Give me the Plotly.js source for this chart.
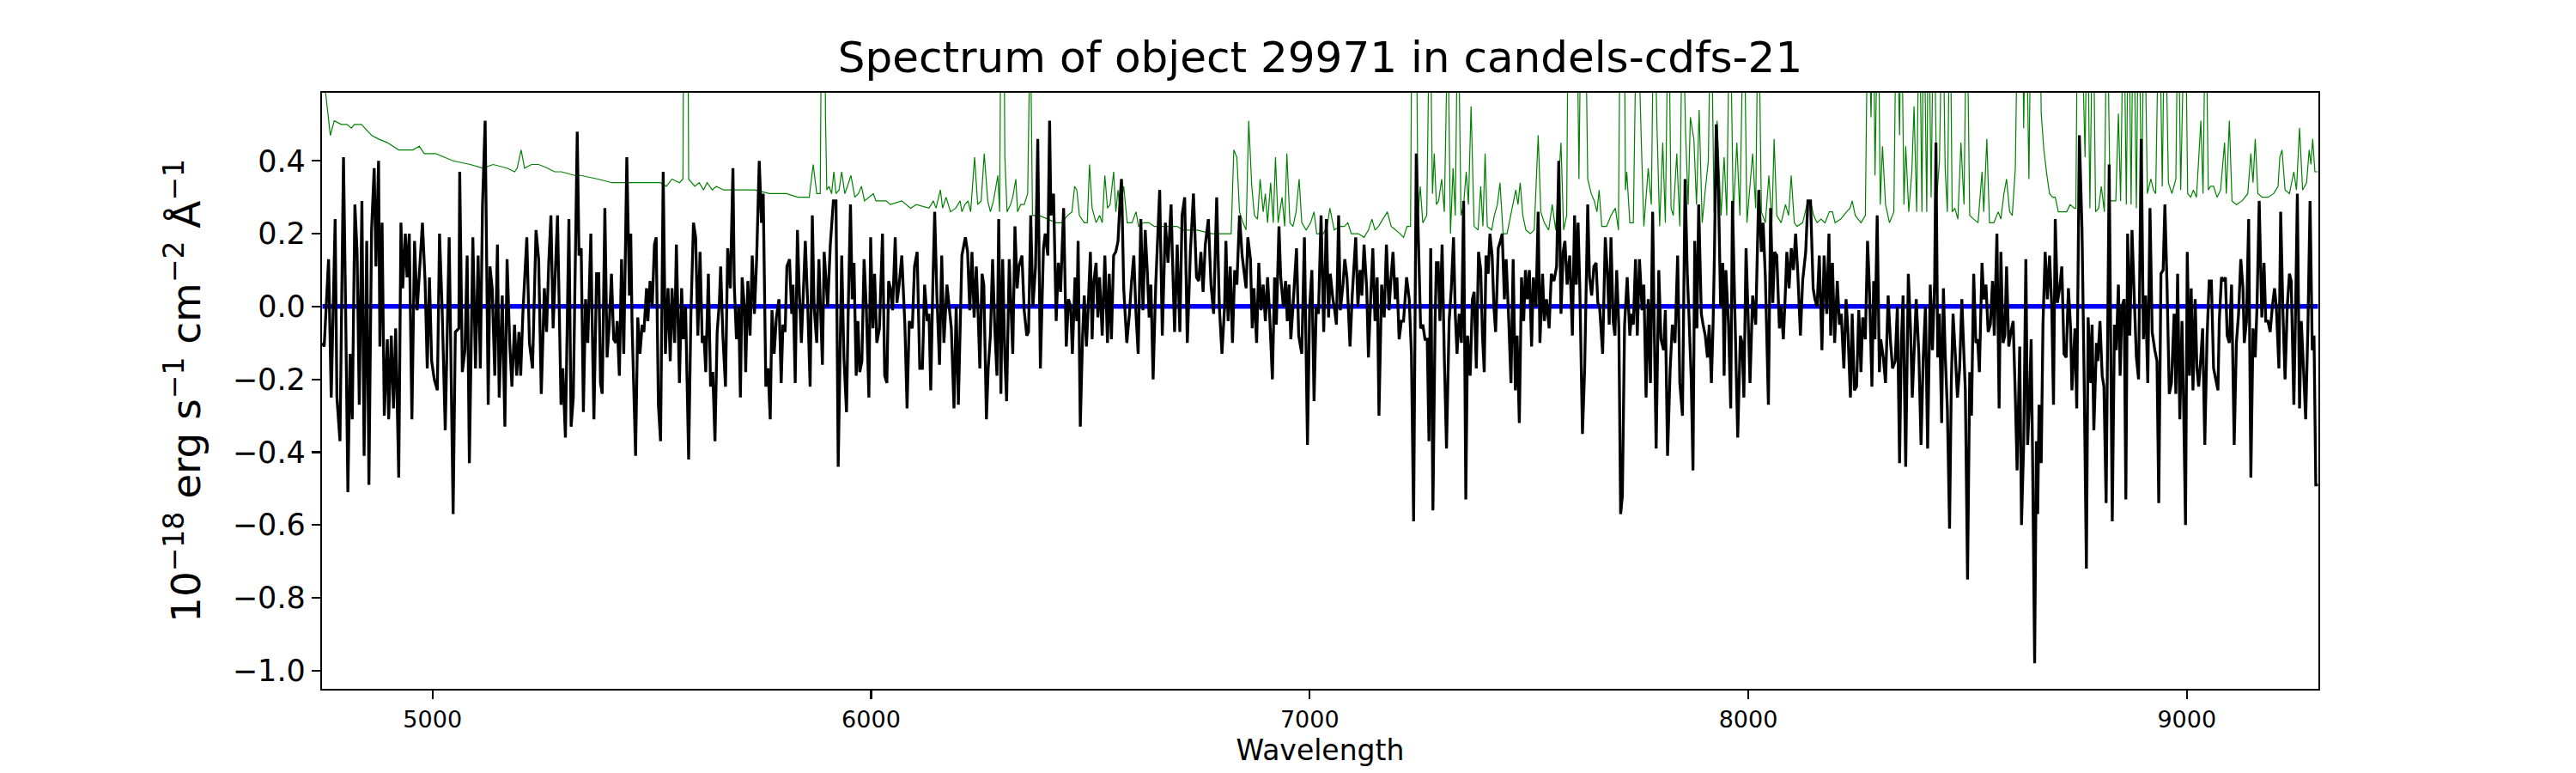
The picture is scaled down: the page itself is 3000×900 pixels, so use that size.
<!DOCTYPE html>
<html>
<head>
<meta charset="utf-8">
<script src="https://cdn.plot.ly/plotly-3.0.1.min.js"></script>
<style>
  html, body { margin: 0; padding: 0; background: #fff; }
  #spectrum { width: 3000px; height: 900px; }
</style>
</head>
<body>
<div id="spectrum"></div>
<script>
const fluxWave = [
  // 4750 - 5320
  4749,4753,4763,4769,4778,4782,4789,4797,4802,4807,
  4812,4817,4823,4828,4833,4839,4844,4850,4855,4861,
  4867,4871,4877,4880,4885,4890,4897,4900,4906,4911,
  4916,4923,4928,4932,4938,4942,4947,4953,4959,4965,
  4972,4977,4983,4988,4993,4998,5004,5011,5016,5022,
  5029,5038,5047,5052,5060,5062,5068,5074,5079,5084,
  5092,5098,5104,5109,5114,5120,5127,5131,5136,5142,
  5148,5152,5159,5165,5170,5176,5181,5187,5192,5197,
  5201,5206,5215,5221,5228,5236,5242,5248,5255,5260,
  5265,5270,5275,5285,5293,5297,5303,5311,5316,
  // 5320 - 5890
  5321,5330,5334,5339,5344,5349,5354,5361,5364,5368,
  5374,5379,5383,5387,5393,5398,5403,5408,5413,5418,
  5421,5426,5431,5436,5439,5443,5449,5452,5455,5463,
  5468,5473,5478,5482,5488,5491,5496,5501,5506,5510,
  5515,5520,5526,5531,5537,5542,5546,5552,5556,5563,
  5568,5572,5577,5584,5589,5595,5600,5605,5610,5615,
  5619,5623,5629,5634,5639,5644,5649,5654,5657,5662,
  5668,5673,5679,5685,5688,5693,5698,5702,5706,5711,
  5714,5719,5724,5729,5734,5739,5745,5750,5754,5760,
  5765,5770,5774,5779,5784,5790,5795,5799,5804,5808,
  5814,5819,5822,5827,5832,5836,5841,5845,5850,5855,
  5861,5866,5870,5876,5881,5889,
  // 5890 - 6465
  5893,5901,5907,5914,5920,5925,5933,5938,5944,5948,
  5953,5957,5961,5966,5970,5974,5979,5984,5989,5995,
  5999,6004,6008,6013,6019,6026,6031,6036,6040,6044,
  6049,6055,6059,6064,6070,6077,6082,6087,6094,6099,
  6105,6111,6117,6122,6128,6132,6136,6141,6145,6150,
  6156,6161,6166,6173,6178,6183,6189,6194,6199,6207,
  6215,6220,6225,6230,6235,6240,6244,6248,6253,6257,
  6263,6267,6272,6277,6282,6287,6291,6296,6300,6305,
  6309,6315,6319,6323,6328,6333,6337,6344,6349,6355,
  6359,6364,6369,6375,6380,6386,6393,6397,6403,6407,
  6410,6416,6422,6427,6432,6439,6445,6450,6455,6459,
  6465,
  // 6465 - 7035
  6469,6472,6477,6482,6486,6491,6495,6500,6504,6508,
  6513,6517,6521,6527,6533,6539,6543,6548,6553,6558,
  6563,6568,6571,6576,6583,6589,6594,6599,6604,6609,
  6615,6620,6625,6630,6634,6638,6643,6649,6658,6664,
  6671,6677,6684,6687,6692,6698,6704,6709,6715,6721,
  6728,6735,6742,6747,6752,6757,6762,6769,6775,6781,
  6788,6794,6800,6806,6809,6814,6819,6824,6829,6834,
  6840,6846,6850,6855,6859,6865,6869,6873,6879,6884,
  6889,6894,6899,6904,6909,6915,6920,6924,6930,6934,
  6940,6945,6949,6953,6957,6962,6970,6975,6982,6988,
  6995,7000,7005,7010,7015,7020,7026,7032,
  // 7035 - 7605
  7038,7043,7047,7053,7057,7061,7066,7070,7076,7080,
  7085,7092,7097,7105,7110,7115,7119,7124,7130,7134,
  7139,7144,7149,7154,7158,7164,7170,7175,7181,7185,
  7190,7195,7199,7204,7209,7214,7221,7227,7232,7237,
  7243,7248,7253,7258,7263,7268,7272,7276,7281,7286,
  7289,7293,7297,7302,7307,7312,7318,7323,7328,7332,
  7336,7341,7346,7351,7356,7360,7366,7371,7375,7380,
  7385,7390,7394,7398,7402,7407,7411,7416,7420,7424,
  7430,7435,7439,7444,7448,7454,7459,7464,7469,7473,
  7478,7483,7488,7492,7496,7501,7506,7510,7516,7521,
  7525,7531,7535,7540,7546,7551,7557,7563,7568,7573,
  7578,7582,7587,7593,7599,7604,
  // 7605 - 8175
  7608,7612,7616,7622,7627,7634,7638,7643,7648,7653,
  7657,7661,7668,7674,7679,7683,7687,7692,7696,7700,
  7705,7709,7713,7718,7724,7730,7734,7738,7743,7747,
  7752,7758,7762,7767,7772,7777,7782,7786,7790,7796,
  7801,7807,7811,7816,7822,7827,7833,7839,7844,7850,
  7856,7861,7865,7870,7874,7878,7883,7887,7893,7897,
  7902,7907,7911,7916,7920,7923,7927,7932,7937,7942,
  7945,7949,7955,7960,7964,7970,7976,7982,7986,7990,
  7995,8000,8004,8010,8017,8020,8024,8030,8034,8039,
  8046,8051,8056,8060,8065,8071,8075,8080,8084,8088,
  8093,8098,8103,8108,8113,8119,8124,8131,8136,8142,
  8148,8152,8157,8162,8168,8173,
  // 8175 - 8740
  8179,8184,8188,8192,8197,8203,8208,8212,8218,8223,
  8227,8233,8237,8242,8247,8252,8257,8261,8267,8272,
  8276,8282,8286,8289,8294,8299,8302,8308,8313,8319,
  8324,8329,8335,8340,8345,8349,8353,8359,8365,8370,
  8374,8379,8383,8389,8394,8399,8404,8409,8415,8420,
  8425,8428,8432,8436,8441,8445,8449,8454,8459,8463,
  8467,8472,8477,8482,8487,8492,8495,8500,8505,8509,
  8514,8519,8523,8527,8533,8537,8542,8547,8552,8557,
  8561,8567,8572,8576,8581,8585,8589,8594,8599,8604,
  8609,8613,8619,8623,8628,8633,8637,8641,8645,8648,
  8653,8657,8660,8663,8668,8672,8677,8682,8687,8692,
  8696,8700,8705,8710,8715,8720,8725,8730,8735,8738,
  // 8740 - 9300
  8745,8749,8755,8761,8766,8771,8775,8781,8784,8788,
  8794,8797,8802,8807,8811,8816,8823,8830,8835,8839,
  8844,8848,8852,8857,8861,8865,8870,8875,8880,8885,
  8890,8896,8901,8906,8911,8916,8921,8927,8932,8936,
  8941,8946,8950,8955,8960,8965,8971,8975,8979,8984,
  8989,8992,8997,9001,9006,9010,9014,9019,9023,9027,
  9032,9036,9041,9046,9051,9056,9061,9066,9071,9074,
  9079,9084,9088,9092,9097,9102,9108,9113,9118,9123,
  9128,9131,9136,9141,9146,9151,9156,9160,9165,9171,
  9176,9180,9185,9190,9195,9200,9204,9210,9214,9219,
  9224,9229,9234,9238,9244,9248,9252,9257,9261,9266,
  9271,9276,9281,9286,9290,9294,9299
];

const fluxValues = [
  // 4750 - 5320
  -0.10,-0.11,0.13,-0.25,0.24,-0.25,-0.37,0.41,-0.02,-0.51,
  -0.13,-0.31,0.28,0.15,-0.27,0.29,-0.41,0.18,-0.49,0.21,
  0.38,0.11,0.40,-0.11,0.23,-0.30,-0.09,-0.31,-0.08,-0.28,
  -0.06,-0.47,0.23,0.05,0.20,0.08,0.20,-0.31,0.18,-0.01,
  0.13,0.23,0.07,-0.17,0.08,-0.15,-0.20,-0.23,0.20,-0.01,
  -0.34,0.19,-0.57,-0.07,-0.06,0.37,-0.18,-0.12,0.14,-0.43,
  0.19,-0.17,0.14,-0.17,0.28,0.51,-0.27,0.11,0.05,-0.19,
  0.17,-0.25,0.03,-0.33,0.13,-0.10,-0.22,-0.05,-0.19,-0.07,
  -0.19,-0.02,0.19,-0.10,-0.17,0.21,0.13,-0.24,0.05,-0.07,
  0.12,0.25,-0.06,0.25,-0.27,-0.17,-0.36,0.24,-0.33,
  // 5320 - 5890
  -0.25,0.48,0.14,0.16,-0.29,0.02,-0.10,0.20,-0.04,-0.31,
  0.09,0.09,-0.21,-0.24,0.27,-0.14,-0.05,0.09,-0.09,-0.10,
  -0.04,-0.19,0.13,-0.13,0.09,0.41,0.03,0.20,-0.05,-0.41,
  -0.03,-0.13,-0.05,-0.07,0.05,-0.04,0.07,0.00,0.17,0.19,
  -0.27,-0.37,0.37,-0.13,0.05,-0.15,0.05,-0.10,0.17,-0.21,
  0.05,-0.09,0.00,-0.42,-0.03,0.23,0.19,-0.08,0.15,-0.10,
  -0.08,-0.18,0.09,-0.22,-0.18,-0.37,-0.07,0.01,0.11,-0.08,
  -0.22,0.16,0.05,0.38,0.06,-0.09,0.00,-0.25,0.08,0.00,
  -0.18,0.07,-0.08,0.14,-0.02,0.13,0.40,0.23,0.31,-0.22,
  -0.17,-0.31,-0.01,-0.13,-0.03,0.02,-0.21,-0.05,-0.07,0.11,
  0.13,-0.02,0.06,-0.21,0.21,0.05,-0.10,0.02,0.18,0.02,
  -0.22,0.25,0.00,-0.10,0.13,-0.16,
  // 5890 - 6465
  0.15,0.00,0.17,0.29,0.29,-0.44,0.14,-0.14,-0.29,0.00,
  0.28,0.02,0.12,-0.19,-0.04,-0.18,-0.15,0.13,0.00,-0.25,
  0.19,-0.06,0.09,-0.10,-0.06,0.20,-0.19,-0.21,0.07,0.05,
  -0.01,0.19,0.01,0.06,0.14,-0.05,-0.28,-0.04,-0.06,0.11,
  0.15,-0.17,-0.17,0.06,-0.04,-0.02,-0.23,0.07,0.26,0.03,
  -0.16,0.14,-0.10,0.06,0.00,-0.06,-0.28,0.00,-0.27,0.14,
  0.19,0.15,-0.01,0.15,-0.03,0.11,-0.02,-0.17,0.09,0.06,
  -0.31,-0.17,-0.08,0.13,-0.06,-0.19,0.24,-0.24,0.13,-0.14,
  -0.26,0.13,0.00,-0.13,0.22,0.05,0.11,0.14,-0.01,-0.08,
  -0.07,0.25,0.00,0.11,0.46,-0.17,0.16,0.20,0.14,0.51,
  0.25,0.31,-0.04,0.12,0.04,0.27,-0.11,0.02,0.00,-0.13,
  0.08,
  // 6465 - 7035
  -0.04,0.18,-0.33,-0.09,0.03,-0.11,0.00,0.15,-0.09,0.07,
  0.12,-0.03,0.08,-0.08,0.14,-0.10,0.09,-0.09,0.14,0.15,
  0.18,0.30,0.35,0.05,-0.10,-0.02,0.07,0.14,-0.02,-0.13,
  0.24,-0.01,0.21,0.09,-0.03,0.06,-0.20,0.06,0.32,-0.08,
  0.23,0.12,0.28,0.14,-0.07,0.17,-0.07,0.25,0.30,-0.10,
  0.15,0.31,0.08,0.07,0.15,0.04,0.17,0.24,0.06,-0.02,
  0.30,0.00,-0.13,0.00,0.18,-0.04,0.11,-0.10,0.10,0.06,
  0.25,0.14,0.10,0.05,0.19,0.13,-0.06,0.05,-0.10,0.12,
  -0.01,0.06,-0.04,0.08,-0.03,-0.20,0.08,-0.05,0.22,0.08,
  0.00,0.07,-0.04,0.06,-0.09,0.00,0.16,-0.08,-0.13,0.19,
  -0.38,0.00,0.10,-0.26,0.00,-0.02,0.25,-0.07,
  // 7035 - 7605
  0.24,-0.03,0.09,0.02,-0.01,-0.05,0.25,-0.01,0.06,0.13,
  0.08,-0.11,0.03,0.19,0.00,0.10,0.03,0.17,0.05,-0.14,
  0.02,0.16,-0.04,0.08,-0.30,0.06,-0.03,0.17,-0.01,0.07,
  0.15,0.02,0.08,-0.09,-0.04,-0.04,0.08,0.02,-0.13,-0.59,
  0.42,0.18,-0.06,-0.05,-0.09,-0.09,-0.37,0.16,-0.56,-0.04,
  0.12,0.12,-0.04,0.17,-0.14,-0.39,-0.04,0.05,0.19,-0.02,
  -0.13,-0.02,-0.10,0.29,-0.53,-0.08,-0.19,0.02,0.04,-0.17,
  0.15,0.10,-0.08,-0.18,0.14,0.09,0.20,0.14,0.00,-0.07,
  0.16,0.18,0.20,0.02,0.13,-0.04,-0.21,0.13,-0.23,-0.08,
  -0.32,0.08,-0.04,0.10,0.02,0.10,-0.11,0.08,0.00,0.26,
  -0.10,0.09,-0.04,0.02,-0.06,0.09,0.07,0.11,0.40,-0.02,
  0.15,0.18,0.06,0.14,-0.08,0.25,
  // 7605 - 8175
  0.06,0.23,0.05,-0.35,-0.17,0.28,0.08,0.03,0.11,0.12,
  0.01,0.00,-0.13,0.19,0.09,-0.05,0.19,-0.04,-0.08,0.10,
  -0.06,-0.57,-0.52,-0.05,0.08,-0.08,-0.02,-0.05,0.13,-0.08,
  0.13,-0.01,0.06,-0.25,0.02,-0.21,0.26,-0.08,-0.39,0.10,
  -0.09,-0.12,-0.01,-0.41,-0.17,-0.05,-0.10,0.14,-0.21,-0.30,
  0.35,0.09,-0.03,-0.20,-0.45,0.18,-0.06,0.28,-0.02,-0.05,
  -0.08,-0.14,-0.05,-0.21,-0.04,0.15,0.50,0.32,0.00,0.12,
  -0.19,0.10,-0.05,-0.28,0.29,-0.04,-0.36,-0.08,-0.10,-0.25,
  0.16,-0.04,-0.21,0.03,-0.05,0.11,0.32,0.15,0.23,0.08,
  -0.27,0.27,0.01,0.15,0.14,-0.06,0.00,-0.09,0.02,0.15,
  0.05,0.16,0.10,0.20,0.09,-0.08,0.07,0.15,0.29,0.29,
  0.05,0.02,0.00,0.14,-0.12,0.14,
  // 8175 - 8740
  -0.02,0.20,-0.08,0.12,-0.10,0.07,-0.05,-0.02,-0.17,0.02,
  -0.06,-0.25,-0.02,-0.23,-0.22,-0.01,-0.18,-0.03,-0.09,0.18,
  0.06,-0.22,0.07,-0.09,0.25,-0.18,-0.09,-0.14,-0.21,0.03,
  -0.09,-0.17,-0.15,0.00,-0.43,-0.10,0.03,-0.44,0.09,-0.06,
  -0.25,-0.10,0.02,-0.13,-0.38,-0.14,0.00,-0.39,0.06,-0.12,
  0.07,0.45,-0.14,-0.02,-0.32,0.05,-0.13,-0.28,-0.61,-0.21,
  -0.02,-0.13,-0.25,-0.17,0.02,-0.14,-0.23,-0.75,-0.18,-0.30,
  0.09,-0.10,-0.09,-0.18,0.12,0.02,0.06,-0.07,-0.05,0.07,
  -0.08,0.20,-0.28,0.15,-0.10,-0.08,0.11,-0.11,-0.07,-0.04,
  -0.25,-0.45,-0.11,-0.60,-0.38,0.13,-0.38,-0.27,-0.09,-0.38,
  -0.98,-0.37,-0.57,-0.27,-0.43,-0.05,0.15,0.02,0.14,0.00,
  -0.27,0.24,0.01,0.05,0.11,-0.13,-0.14,0.05,-0.06,-0.23,
  // 8740 - 9300
  -0.06,-0.28,0.47,0.21,-0.21,-0.72,-0.03,-0.21,-0.05,-0.34,
  -0.10,-0.15,-0.04,-0.19,-0.22,-0.54,0.39,-0.59,-0.05,-0.12,
  0.06,-0.19,0.00,0.02,-0.53,0.20,-0.08,0.21,0.03,-0.14,
  -0.20,0.46,-0.09,0.03,-0.21,0.27,-0.07,-0.12,-0.15,-0.54,
  0.09,0.10,0.28,0.05,-0.24,-0.21,-0.02,-0.24,0.09,-0.31,
  -0.04,-0.22,-0.60,0.15,-0.19,0.05,-0.23,0.02,-0.17,-0.22,
  -0.14,-0.06,-0.38,-0.09,0.07,0.07,-0.17,-0.20,-0.23,-0.04,
  0.08,0.07,0.08,-0.08,-0.10,0.06,-0.38,-0.10,-0.02,0.13,
  0.05,-0.10,-0.04,0.24,-0.47,-0.06,-0.14,0.00,0.29,-0.03,
  0.12,-0.04,-0.04,-0.07,0.00,0.05,0.00,-0.17,0.26,-0.01,
  -0.20,0.00,0.09,0.07,-0.27,-0.01,0.31,-0.28,-0.04,-0.17,
  -0.31,-0.06,0.29,-0.12,-0.08,-0.49,-0.49
];

// Noise spectrum (green); sky-line spikes run off the top of the axes
const noiseWave = [
  4749,4755,4767,4776,4792,4805,4815,4822,4838,4861,
  4877,4897,4923,4955,4970,4981,5007,5047,5086,5115,
  5138,5170,5187,5193,5202,5210,5226,5242,5262,5278,
  5294,5324,5338,5377,5409,5442,5462,5481,5520,5533,
  5546,5563,5571,5575,5580,5584,5598,5608,5618,5626,
  5638,5647,5664,5703,5735,5768,5807,5833,5859,5868,
  5876,5884,5889,5893,5896,5899,5904,5910,5915,5920,
  5927,5933,5940,5946,5954,5963,5971,5978,5985,6005,
  6011,6034,6044,6070,6090,6103,6132,6142,6148,6158,
  6163,6171,6181,6193,6203,6207,6214,6221,6227,6236,
  6243,6251,6258,6266,6272,6279,6289,6293,6298,6302,
  6305,6310,6318,6323,6330,6334,6341,6349,6357,6363,
  6368,6383,6403,6422,6435,6448,6458,6464,6469,6475,
  6486,6493,6498,6504,6513,6521,6527,6533,6539,6545,
  6553,6558,6563,6568,6576,6584,6595,6604,6610,6621,
  6633,6646,6679,6698,6711,6744,6777,6809,6821,6827,
  6834,6840,6848,6855,6861,6868,6874,6881,6887,6894,
  6899,6904,6911,6917,6922,6928,6937,6943,6948,6955,
  6962,6969,6976,6982,6992,7002,7010,7016,7031,7040,
  7046,7056,7069,7079,7087,7095,7111,7124,7134,7142,
  7149,7157,7167,7177,7186,7196,7206,7214,7222,7230,
  7235,7242,7247,7252,7258,7267,7274,7280,7284,7289,
  7294,7301,7307,7315,7321,7327,7332,7338,7345,7351,
  7357,7362,7368,7375,7384,7390,7395,7400,7405,7415,
  7421,7428,7434,7441,7450,7460,7470,7475,7480,7486,
  7493,7503,7512,7521,7527,7535,7545,7553,7561,7573,
  7579,7586,7593,7600,7606,7614,7622,7627,7634,7642,
  7649,7655,7660,7666,7677,7687,7697,7704,7709,7717,
  7720,7723,7730,7738,7746,7756,7762,7772,7779,7785,
  7792,7798,7805,7811,7818,7824,7829,7837,7844,7850,
  7857,7863,7868,7876,7882,7888,7895,7902,7909,7915,
  7922,7929,7938,7945,7951,7958,7966,7974,7981,7990,
  7997,8010,8017,8023,8030,8039,8047,8054,8059,8065,
  8075,8085,8092,8098,8105,8111,8124,8134,8142,8149,
  8157,8166,8175,8185,8192,8198,8211,8224,8232,8237,
  8244,8257,8267,8273,8280,8285,8289,8296,8301,8306,
  8313,8322,8332,8338,8345,8349,8355,8359,8366,8373,
  8378,8384,8390,8396,8400,8407,8411,8417,8423,8430,
  8436,8443,8449,8454,8460,8465,8471,8478,8485,8492,
  8498,8505,8514,8524,8533,8537,8544,8550,8560,8570,
  8576,8583,8589,8596,8602,8609,8615,8622,8628,8633,
  8640,8645,8651,8661,8668,8674,8681,8687,8694,8700,
  8707,8716,8726,8734,8743,8747,8751,8758,8768,8773,
  8779,8786,8792,8799,8805,8812,8818,8825,8833,8838,
  8844,8849,8856,8862,8867,8873,8878,8885,8890,8897,
  8903,8910,8918,8924,8929,8937,8944,8950,8958,8966,
  8975,8980,8986,8996,9002,9009,9015,9022,9032,9037,
  9043,9049,9054,9061,9069,9077,9086,9090,9097,9103,
  9113,9126,9139,9146,9151,9156,9162,9172,9185,9198,
  9208,9212,9217,9224,9234,9244,9250,9257,9264,9273,
  9279,9283,9287,9292,9299
];

const noiseValues = [
  0.80,0.60,0.47,0.51,0.50,0.50,0.49,0.50,0.50,0.47,
  0.46,0.45,0.43,0.43,0.44,0.42,0.42,0.40,0.39,0.38,
  0.39,0.38,0.37,0.38,0.43,0.38,0.39,0.39,0.38,0.37,
  0.37,0.36,0.36,0.35,0.34,0.34,0.34,0.34,0.34,0.33,
  0.35,0.34,0.35,1.50,1.50,0.35,0.33,0.34,0.32,0.34,
  0.32,0.33,0.32,0.32,0.32,0.31,0.31,0.30,0.30,0.39,
  0.31,0.31,1.20,1.20,0.52,0.32,0.33,0.31,0.37,0.31,
  0.32,0.37,0.31,0.33,0.36,0.30,0.31,0.33,0.29,0.31,
  0.29,0.29,0.28,0.29,0.27,0.28,0.27,0.29,0.27,0.32,
  0.27,0.30,0.26,0.27,0.29,0.26,0.28,0.29,0.26,0.41,
  0.28,0.29,0.42,0.29,0.26,0.29,0.36,0.26,1.20,1.00,
  0.41,0.26,0.28,0.30,0.35,0.26,0.28,0.28,0.31,0.80,
  0.25,0.25,0.24,0.23,0.23,0.25,0.26,0.33,0.32,0.25,
  0.23,0.23,0.39,0.27,0.23,0.25,0.23,0.36,0.27,0.28,
  0.37,0.26,0.32,0.26,0.33,0.23,0.23,0.26,0.22,0.23,
  0.23,0.22,0.22,0.22,0.21,0.21,0.20,0.20,0.20,0.43,
  0.41,0.26,0.23,0.21,0.51,0.33,0.25,0.24,0.35,0.26,
  0.31,0.23,0.34,0.23,0.41,0.23,0.30,0.22,0.42,0.23,
  0.22,0.26,0.35,0.23,0.21,0.23,0.26,0.20,0.20,0.22,
  0.27,0.21,0.22,0.22,0.23,0.20,0.20,0.19,0.21,0.24,
  0.21,0.22,0.24,0.26,0.22,0.21,0.20,0.19,0.22,0.22,
  1.20,1.00,0.25,0.33,0.23,0.25,0.90,0.31,0.42,0.28,
  0.29,0.35,0.26,0.80,0.20,0.38,0.25,0.90,0.25,0.28,
  0.37,0.28,0.55,0.22,0.21,0.33,0.22,0.42,0.22,0.21,
  0.25,0.28,0.34,0.20,0.20,0.26,0.32,0.28,0.34,0.25,
  0.21,0.20,0.21,0.47,0.26,0.23,0.21,0.28,0.21,0.45,
  0.21,0.25,1.50,1.50,1.20,0.35,1.20,1.00,0.35,0.31,
  0.29,0.26,0.32,0.22,0.22,0.25,0.27,0.21,1.00,0.90,
  0.32,0.37,0.23,0.23,0.90,0.46,0.22,0.38,0.28,0.90,
  0.49,0.22,0.45,0.23,0.90,0.27,0.25,0.42,0.22,0.90,
  0.48,0.28,0.52,0.46,0.28,0.54,0.23,0.32,0.40,0.90,
  0.26,0.51,0.25,0.41,0.25,0.90,0.25,0.45,0.25,0.90,
  0.23,0.42,0.27,0.90,0.26,0.23,0.36,0.23,0.46,0.25,
  0.23,0.28,0.25,0.36,0.23,0.22,0.23,0.28,0.29,0.25,
  0.23,0.24,0.23,0.26,0.26,0.23,0.24,0.26,0.27,0.29,
  0.25,0.23,0.25,0.90,0.52,0.90,0.36,0.90,0.28,0.44,
  0.28,0.23,0.26,0.90,0.47,0.90,0.28,0.44,0.26,0.37,
  0.55,0.26,0.90,0.26,0.90,0.26,0.90,0.30,0.90,0.30,
  0.40,0.90,0.38,0.26,0.90,0.26,0.27,0.24,0.45,0.28,
  0.90,0.25,0.24,0.23,0.37,0.26,0.46,0.23,0.23,0.26,
  0.24,0.31,0.35,0.26,0.25,0.38,0.90,1.20,0.49,0.90,
  0.35,0.90,1.20,1.20,0.53,0.43,0.36,0.31,0.30,0.30,
  0.26,0.26,0.26,0.28,0.27,0.27,0.90,0.90,0.41,0.90,
  0.27,0.90,0.26,0.27,0.33,0.26,0.90,0.29,0.29,0.29,
  0.53,0.29,0.90,0.28,0.90,0.28,0.90,0.27,0.90,0.28,
  0.90,0.31,0.35,0.32,0.31,0.90,0.33,0.90,0.34,0.31,
  0.35,0.90,0.32,0.90,0.31,0.30,0.32,0.30,0.51,0.31,
  0.90,0.32,0.33,0.33,0.30,0.32,0.45,0.31,0.51,0.29,
  0.28,0.29,0.31,0.42,0.34,0.46,0.31,0.30,0.30,0.31,
  0.33,0.41,0.43,0.32,0.31,0.37,0.32,0.49,0.32,0.34,
  0.43,0.39,0.46,0.37,0.37
];

const zeroLevel = 0;
const xTicks = [5000, 6000, 7000, 8000, 9000];
const yTicks = [-1.0, -0.8, -0.6, -0.4, -0.2, 0.0, 0.2, 0.4];

const FONT = 'DejaVu Sans, Liberation Sans, sans-serif';

const traces = [
  {
    x: noiseWave, y: noiseValues,
    type: 'scatter', mode: 'lines',
    line: { color: '#008000', width: 1.2, simplify: false },
    hoverinfo: 'skip'
  },
  {
    x: [fluxWave[0], fluxWave[fluxWave.length - 1]], y: [zeroLevel, zeroLevel],
    type: 'scatter', mode: 'lines',
    line: { color: '#0000ff', width: 5.5 },
    hoverinfo: 'skip'
  },
  {
    x: fluxWave, y: fluxValues,
    type: 'scatter', mode: 'lines',
    line: { color: '#000000', width: 3.3, simplify: false },
    hoverinfo: 'skip'
  }
];

const axisCommon = {
  showgrid: false,
  zeroline: false,
  showline: true,
  mirror: true,
  linecolor: '#000',
  linewidth: 2.2,
  ticks: 'outside',
  ticklen: 10,
  tickwidth: 2.2,
  tickcolor: '#000',
  automargin: false
};

const layout = {
  width: 3000,
  height: 900,
  margin: { l: 375, r: 300, t: 108, b: 98 },
  paper_bgcolor: '#fff',
  plot_bgcolor: '#fff',
  showlegend: false,
  font: { family: FONT, color: '#000' },
  title: {
    text: 'Spectrum of object 29971 in candels-cdfs-21',
    font: { family: FONT, size: 50, color: '#000' },
    xref: 'paper', x: 0.5, xanchor: 'center',
    yref: 'paper', y: 1, yanchor: 'bottom',
    pad: { b: 24 }
  },
  xaxis: Object.assign({}, axisCommon, {
    range: [4748, 9300],
    tickvals: xTicks,
    ticktext: xTicks.map(String),
    tickfont: { family: FONT, size: 27 },
    title: { text: 'Wavelength', font: { family: FONT, size: 33 }, standoff: 10 }
  }),
  yaxis: Object.assign({}, axisCommon, {
    range: [-1.05, 0.587],
    tickvals: yTicks,
    tickformat: '.1f',
    tickfont: { family: FONT, size: 35 },
    title: {
      text: '10<sup>\u221218</sup> erg s<sup>\u22121</sup> cm<sup>\u22122</sup> \u00c5<sup>\u22121</sup>',
      font: { family: FONT, size: 47 },
      standoff: 22
    }
  })
};

Plotly.newPlot('spectrum', traces, layout, { displayModeBar: false, staticPlot: true });
</script>
</body>
</html>
